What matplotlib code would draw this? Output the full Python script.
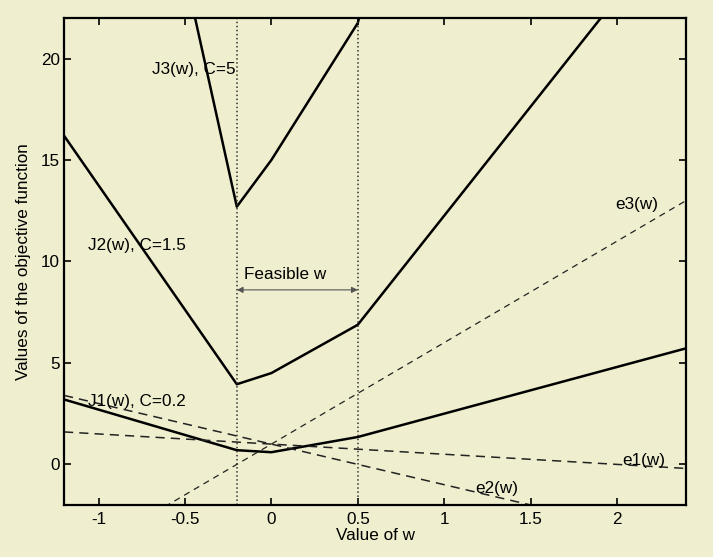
import matplotlib.pyplot as plt

plt.rcParams['font.family'] = ['Liberation Sans', 'DejaVu Sans']

# breakpoints of the piecewise linear curves
w_pts = [-1.2, -0.2, 0.0, 0.5, 2.4]
J1 = [3.2, 0.7, 0.6, 1.35, 5.72]
J2 = [16.2, 3.95, 4.5, 6.88, 27.3]
J3 = [51.2, 12.7, 15.0, 21.75, 85.4]

# dashed error lines, values at the two ends
w_ends = [-1.2, 2.4]
e1 = [1.6, -0.2]
e2 = [3.4, -3.8]
e3 = [-5.0, 13.0]

feasible = [-0.2, 0.5]

bg = '#efefcf'
fig = plt.figure(figsize=(7.13, 5.57), dpi=100, facecolor=bg)
ax = fig.add_axes([0.0898, 0.0934, 0.8724, 0.8743], facecolor=bg)

for J in [J1, J2, J3]:
    ax.plot(w_pts, J, color='black', lw=1.8)

ax.plot(w_ends, e1, color='#222222', lw=1.1, ls=(0, (6, 4)))
ax.plot(w_ends, e2, color='#222222', lw=1.1, ls=(0, (6, 4)))
ax.plot(w_ends, e3, color='#222222', lw=0.9, ls=(0, (5, 4)))

for x in feasible:
    ax.axvline(x, color='#333333', lw=1.1, ls=':')

ax.annotate('', xy=(feasible[0], 8.6), xytext=(feasible[1], 8.6),
            arrowprops=dict(arrowstyle='<|-|>', color='#555555', lw=0.8,
                            mutation_scale=9, shrinkA=0, shrinkB=0))

fs = 12.3
ax.text(-0.69, 19.45, 'J3(w), C=5', fontsize=fs, va='center')
ax.text(-1.06, 10.8, 'J2(w), C=1.5', fontsize=fs, va='center')
ax.text(-1.06, 3.1, 'J1(w), C=0.2', fontsize=fs, va='center')
ax.text(-0.16, 9.35, 'Feasible w', fontsize=fs, va='center')
ax.text(1.99, 12.8, 'e3(w)', fontsize=fs, va='center')
ax.text(2.03, 0.2, 'e1(w)', fontsize=fs, va='center')
ax.text(1.18, -1.2, 'e2(w)', fontsize=fs, va='center')

ax.set_xlim(-1.2, 2.4)
ax.set_ylim(-2, 22)
ax.set_xticks([-1, -0.5, 0, 0.5, 1, 1.5, 2])
ax.set_xticklabels(['-1', '-0.5', '0', '0.5', '1', '1.5', '2'])
ax.set_yticks([0, 5, 10, 15, 20])
ax.tick_params(direction='in', top=True, right=True, length=5, width=1.2,
               labelsize=fs)
ax.tick_params(axis='x', pad=5)
ax.tick_params(axis='y', pad=3)
for s in ax.spines.values():
    s.set_linewidth(1.6)

ax.set_xlabel('Value of w', fontsize=fs, labelpad=1)
ax.set_ylabel('Values of the objective function', fontsize=fs, labelpad=7)

fig.savefig('out.png', dpi=100, facecolor=bg)
